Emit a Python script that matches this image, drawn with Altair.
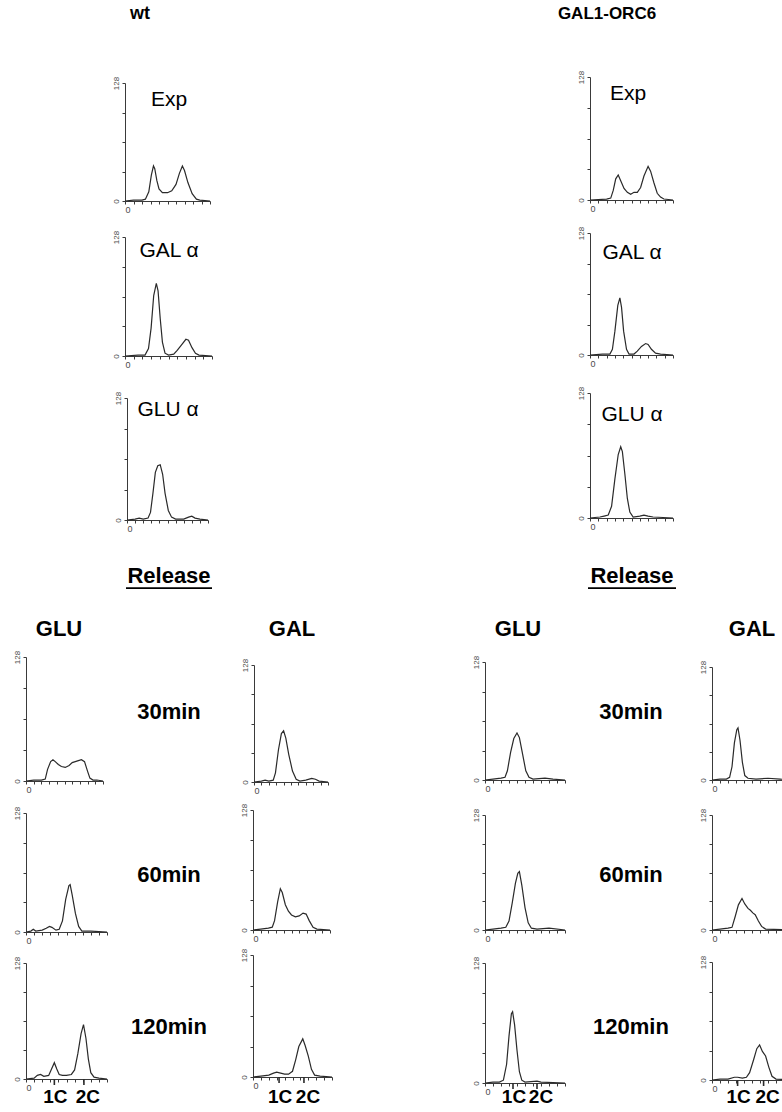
import altair as alt
import pandas as pd

# ---------------------------------------------------------------
# DNA-content histograms: (channel, cell count), counts on a 0-128 scale
# ---------------------------------------------------------------
# wild type, arrest panels
WT_EXP = [(0, 0), (100, 1), (200, 1), (240, 2), (280, 10), (310, 28), (335, 38), (350, 35),
          (375, 22), (400, 13), (440, 9), (500, 9), (550, 11), (600, 18), (640, 30), (675, 38),
          (700, 33), (740, 20), (790, 8), (840, 2), (880, 1), (1000, 0)]
WT_GAL_A = [(0, 0), (150, 1), (230, 1), (270, 8), (300, 30), (330, 65), (360, 78), (380, 70),
            (405, 40), (430, 15), (460, 3), (500, 1), (560, 2), (600, 6), (650, 12), (700, 18),
            (730, 17), (770, 9), (810, 3), (850, 1), (1000, 0)]
WT_GLU_A = [(0, 0), (100, 1), (150, 2), (200, 1), (260, 2), (290, 8), (320, 28), (350, 50),
            (380, 57), (410, 58), (440, 48), (470, 28), (510, 10), (550, 3), (600, 1), (700, 1),
            (760, 3), (800, 4), (840, 2), (900, 1), (1000, 0)]

# GAL1-ORC6, arrest panels
ORC_EXP = [(0, 0), (200, 1), (250, 2), (280, 10), (310, 22), (340, 26), (370, 20), (410, 12),
           (450, 8), (490, 6), (530, 8), (570, 8), (610, 13), (650, 25), (700, 35), (730, 30),
           (770, 18), (810, 7), (850, 3), (890, 1), (1000, 0)]
ORC_GAL_A = [(0, 0), (150, 1), (240, 1), (270, 6), (300, 25), (335, 52), (360, 60), (380, 50),
             (405, 25), (440, 6), (470, 1), (530, 1), (570, 4), (620, 9), (670, 12), (700, 11),
             (740, 6), (790, 2), (850, 1), (1000, 0)]
ORC_GLU_A = [(0, 0), (120, 1), (170, 2), (220, 3), (260, 12), (300, 40), (340, 65), (370, 73),
             (390, 68), (420, 45), (450, 20), (480, 6), (520, 1), (600, 2), (650, 3), (700, 2),
             (760, 1), (1000, 0)]

# wild type, release time course
WT_GLU_30 = [(0, 0), (100, 1), (200, 1), (250, 2), (280, 12), (320, 20), (350, 22), (380, 20),
             (420, 17), (460, 15), (510, 14), (560, 16), (600, 19), (640, 20), (680, 21),
             (720, 22), (760, 20), (800, 10), (830, 3), (870, 1), (920, 1), (1000, 0)]
WT_GLU_60 = [(0, 0), (60, 1), (90, 3), (120, 1), (200, 2), (250, 4), (290, 6), (320, 5),
             (370, 2), (410, 3), (450, 12), (490, 35), (530, 50), (545, 51), (570, 40),
             (610, 20), (650, 6), (690, 1), (800, 1), (1000, 0)]
WT_GLU_120 = [(0, 0), (100, 1), (140, 4), (180, 5), (220, 3), (280, 4), (310, 10), (350, 18),
              (380, 11), (410, 5), (450, 4), (500, 4), (560, 5), (600, 10), (640, 28), (680, 50),
              (710, 60), (740, 45), (770, 22), (800, 7), (840, 2), (900, 1), (1000, 0)]
WT_GAL_30 = [(0, 0), (100, 1), (150, 2), (200, 1), (260, 2), (290, 10), (330, 35), (370, 53),
             (400, 56), (430, 48), (470, 30), (520, 12), (570, 3), (620, 1), (700, 2), (780, 4),
             (830, 3), (880, 1), (1000, 0)]
WT_GAL_60 = [(0, 0), (100, 1), (200, 2), (250, 3), (280, 10), (320, 30), (355, 44), (380, 40),
             (420, 27), (460, 20), (500, 16), (550, 14), (600, 15), (650, 18), (690, 17),
             (730, 10), (780, 3), (830, 1), (1000, 0)]
WT_GAL_120 = [(0, 0), (100, 1), (200, 2), (260, 4), (300, 5), (350, 4), (400, 3), (450, 3),
              (500, 6), (540, 18), (580, 32), (630, 40), (660, 33), (700, 22), (740, 8),
              (780, 2), (850, 1), (1000, 0)]

# GAL1-ORC6, release time course
ORC_GLU_30 = [(0, 0), (100, 1), (200, 2), (250, 3), (280, 10), (320, 30), (360, 45), (400, 51),
              (430, 46), (470, 28), (510, 10), (550, 3), (600, 1), (750, 2), (850, 1), (1000, 0)]
ORC_GLU_60 = [(0, 0), (100, 1), (200, 2), (260, 3), (300, 10), (340, 30), (380, 52), (410, 63),
              (430, 65), (460, 50), (500, 25), (540, 8), (580, 2), (650, 1), (800, 2), (1000, 0)]
ORC_GLU_120 = [(0, 0), (100, 1), (180, 1), (230, 3), (270, 20), (300, 50), (330, 74), (345, 76),
               (370, 62), (400, 35), (430, 12), (460, 3), (500, 1), (650, 2), (700, 1), (1000, 0)]
ORC_GAL_30 = [(0, 0), (100, 1), (180, 1), (220, 3), (250, 15), (280, 42), (310, 57), (325, 59),
              (350, 45), (380, 20), (410, 5), (450, 2), (550, 1), (700, 2), (850, 1), (1000, 0)]
ORC_GAL_60 = [(0, 0), (100, 1), (200, 2), (250, 3), (290, 15), (330, 28), (375, 35), (410, 29),
              (450, 24), (480, 22), (510, 19), (540, 17), (580, 10), (620, 4), (670, 1), (1000, 0)]
ORC_GAL_120 = [(0, 0), (100, 1), (200, 1), (280, 3), (320, 3), (380, 2), (430, 3), (470, 8),
               (520, 22), (560, 34), (595, 38), (630, 31), (670, 26), (710, 14), (750, 4),
               (800, 1), (1000, 0)]

# 1C / 2C channel positions marked under the last time point
WT_GLU_PLOIDY = [350, 715]
WT_GAL_PLOIDY = [330, 645]
ORC_GLU_PLOIDY = [350, 650]
ORC_GAL_PLOIDY = [320, 645]

X_TICKS = [0, 100, 200, 300, 400, 500, 600, 700, 800, 900, 1000]
Y_TICKS = [0, 32, 64, 96, 128]

PAGE_W, PAGE_H = 782, 1112
FONT = "Liberation Sans"
INK = "#2a2a2a"
AXIS_INK = "#3a3a3a"
LABEL_INK = "#4a4a4a"
ALPHA = "\u03b1"
PLOIDY_ROW_Y = 1097  # centre line of the 1C / 2C captions

ONE_ROW = pd.DataFrame({"k": [0]})


def caption(txt, cx, cy, size, weight="bold", underline=0):
    """A free-standing label; optional underline of the given length."""
    base = alt.Chart(ONE_ROW)
    out = [base.mark_text(text=txt, font=FONT, fontSize=size, fontWeight=weight,
                          align="center", baseline="middle", color="black")
           .encode(x=alt.value(cx), y=alt.value(cy))]
    if underline:
        out.append(base.mark_rule(color="black", strokeWidth=1.6)
                   .encode(x=alt.value(cx - underline / 2), x2=alt.value(cx + underline / 2),
                           y=alt.value(cy + size * 0.55)))
    return out


def histogram(points, box, label=None, label_center=None, ploidy=None):
    """One cytometry panel drawn inside box = (left, right, top, baseline) on the page."""
    x0, x1, y0, y1 = box
    data = pd.DataFrame(points, columns=["channel", "count"])
    xs = alt.Scale(domain=[0, 1000], range=[x0, x1], nice=False, zero=False)
    ys = alt.Scale(domain=[0, 128], range=[y1, y0], nice=False, zero=False)
    x_axis = alt.Axis(orient="bottom", offset=y1 - PAGE_H, values=X_TICKS,
                      labelExpr="datum.value == 0 ? '0' : ''",
                      tickSize=3, labelPadding=1, labelFontSize=9, labelFont=FONT,
                      labelColor=LABEL_INK, domainColor=AXIS_INK, tickColor=AXIS_INK,
                      grid=False, title=None)
    y_axis = alt.Axis(orient="left", offset=-x0, values=Y_TICKS,
                      labelExpr="datum.value == 0 || datum.value == 128 ? datum.label : ''",
                      labelAngle=270, labelAlign="center", labelBaseline="bottom",
                      tickSize=3, labelPadding=2, labelFontSize=8, labelFont=FONT,
                      labelColor=LABEL_INK, domainColor=AXIS_INK, tickColor=AXIS_INK,
                      grid=False, title=None)
    out = [alt.Chart(data).mark_line(color=INK, strokeWidth=1.2)
           .encode(x=alt.X("channel:Q", scale=xs, axis=x_axis),
                   y=alt.Y("count:Q", scale=ys, axis=y_axis))]
    if label:
        out.append(alt.Chart(ONE_ROW)
                   .mark_text(text=label, font=FONT, fontSize=21, align="center",
                              baseline="middle", color="black")
                   .encode(x=alt.value(label_center[0]), y=alt.value(label_center[1])))
    if ploidy:
        px = alt.X("channel:Q", scale=xs, axis=None)
        marks = pd.DataFrame({"channel": ploidy})
        out.append(alt.Chart(marks).mark_rule(color=INK, strokeWidth=1.6)
                   .encode(x=px, y=alt.value(y1), y2=alt.value(y1 + 6)))
        # captions sit under their ticks, the 2C one nudged a little right
        for name, pos, shift in [("1C", ploidy[0], 1), ("2C", ploidy[1], 4)]:
            out.append(alt.Chart(pd.DataFrame({"channel": [pos]}))
                       .mark_text(text=name, font=FONT, fontSize=19, fontWeight="bold",
                                  align="center", baseline="middle", color="black", dx=shift)
                       .encode(x=px, y=alt.value(PLOIDY_ROW_Y)))
    return out


layers = []
# strain headings
layers += caption("wt", 140, 14, 18)
layers += caption("GAL1-ORC6", 607, 14, 17)

# arrest panels
layers += histogram(WT_EXP, (125, 210, 83, 201), "Exp", (169, 100))
layers += histogram(WT_GAL_A, (125, 212, 237, 356), "GAL " + ALPHA, (169, 251))
layers += histogram(WT_GLU_A, (127, 208, 398, 520), "GLU " + ALPHA, (168, 410))
layers += histogram(ORC_EXP, (590, 673, 77, 200), "Exp", (628, 94))
layers += histogram(ORC_GAL_A, (590, 673, 233, 355), "GAL " + ALPHA, (632, 253))
layers += histogram(ORC_GLU_A, (590, 673, 393, 518), "GLU " + ALPHA, (632, 415))

# release block headings
layers += caption("Release", 169, 576, 22, underline=86)
layers += caption("Release", 632, 576, 22, underline=88)
for name, cx in [("GLU", 59), ("GAL", 292), ("GLU", 518), ("GAL", 752)]:
    layers += caption(name, cx, 629, 22)
for name, cy in [("30min", 712), ("60min", 875), ("120min", 1027)]:
    layers += caption(name, 169, cy, 22)
    layers += caption(name, 631, cy, 22)

# release time course, wild type
layers += histogram(WT_GLU_30, (26, 103, 657, 781))
layers += histogram(WT_GLU_60, (26, 107, 813, 932))
layers += histogram(WT_GLU_120, (26, 107, 963, 1079), ploidy=WT_GLU_PLOIDY)
layers += histogram(WT_GAL_30, (254, 328, 665, 782))
layers += histogram(WT_GAL_60, (253, 330, 810, 930))
layers += histogram(WT_GAL_120, (253, 332, 955, 1077), ploidy=WT_GAL_PLOIDY)

# release time course, GAL1-ORC6 (the GAL column runs past the page edge)
layers += histogram(ORC_GLU_30, (485, 565, 662, 780))
layers += histogram(ORC_GLU_60, (485, 565, 815, 930))
layers += histogram(ORC_GLU_120, (485, 565, 963, 1083), ploidy=ORC_GLU_PLOIDY)
layers += histogram(ORC_GAL_30, (712, 792, 667, 780))
layers += histogram(ORC_GAL_60, (712, 792, 815, 930))
layers += histogram(ORC_GAL_120, (712, 792, 962, 1080), ploidy=ORC_GAL_PLOIDY)

chart = (alt.layer(*layers)
         .resolve_scale(x="independent", y="independent")
         .properties(width=PAGE_W, height=PAGE_H, padding=0, background="white",
                     autosize=alt.AutoSizeParams(type="none"))
         .configure_view(stroke=None))

chart.save("out.html", embed_options={"renderer": "svg", "actions": False})
